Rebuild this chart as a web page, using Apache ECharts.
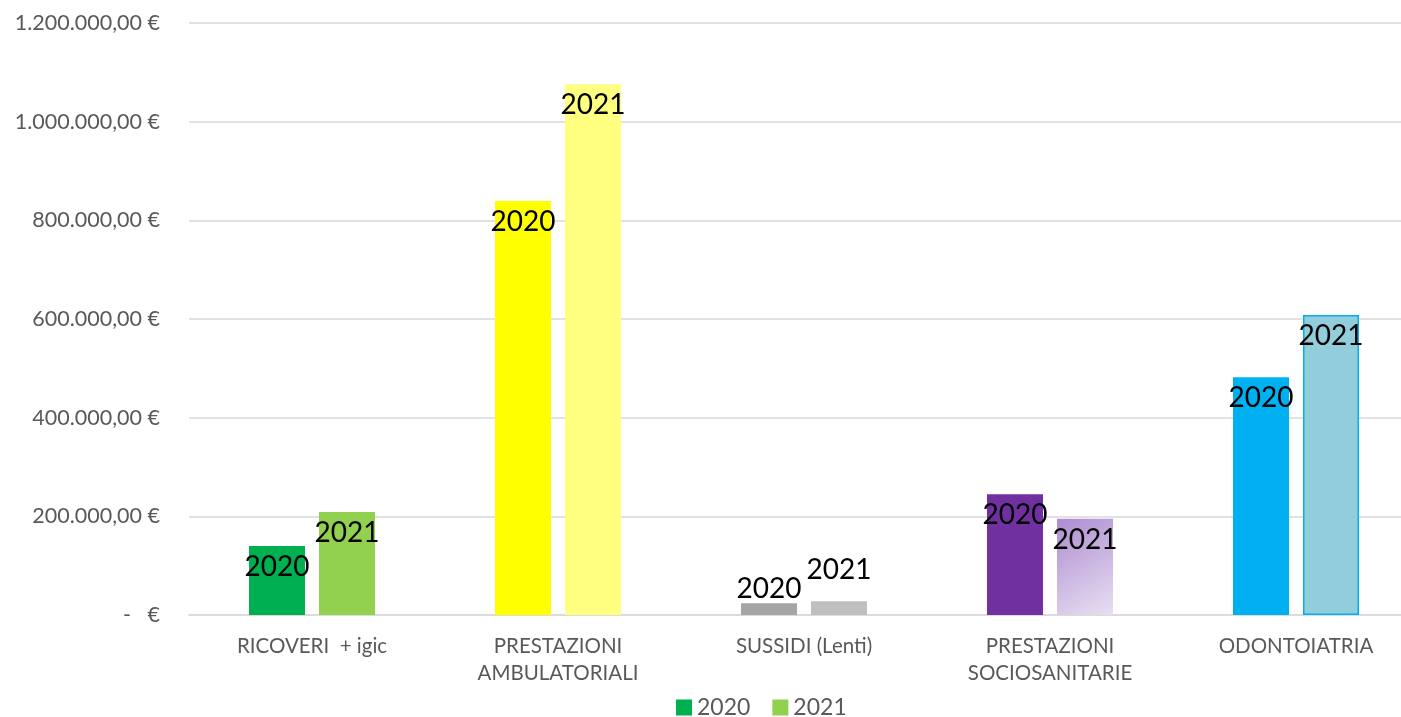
<!DOCTYPE html>
<html>
<head>
<meta charset="utf-8">
<script src="https://cdn.jsdelivr.net/npm/echarts@6/dist/echarts.min.js"></script>
<style>
  html, body { margin: 0; padding: 0; background: #fff; }
  #chart { width: 1401px; height: 717px; }
</style>
</head>
<body>
<div id="chart"></div>
<script>
// categorie e valori
const categories = ['RICOVERI  + igic', 'PRESTAZIONI\nAMBULATORIALI', 'SUSSIDI (Lenti)', 'PRESTAZIONI\nSOCIOSANITARIE', 'ODONTOIATRIA']
const values2020 = [140000, 839000, 24000, 245000, 482000]
const values2021 = [209000, 1076000, 28000, 195000, 608000]
const seriesNames = ['2020', '2021']

// colori per ogni barra (ogni categoria ha i suoi)
const colors2020 = ['#00B050', '#FFFF00', '#A5A5A5', '#7030A0', '#00B0F0']
const colors2021 = ['#92D050', '#FFFF80', '#BFBFBF', 'gradient', '#92CDDC']

const chart = echarts.init(document.getElementById('chart'))

/** formato euro italiano: 1.200.000,00 € */
function formatEuro(v) {
  if (v === 0) return '-   €'
  const s = String(Math.round(v)).replace(/\B(?=(\d{3})+(?!\d))/g, '.')
  return s + ',00 €'
}

function buildData(values, colors, name) {
  return values.map((v, i) => {
    let color = colors[i]
    if (color === 'gradient') {
      color = new echarts.graphic.LinearGradient(0, 0, 1, 1, [
        { offset: 0, color: '#AE8CD0' },
        { offset: 1, color: '#E8E0F2' }
      ])
    }
    const item = { value: v, itemStyle: { color: color } }
    if (name === '2021' && i === 4) {
      item.itemStyle.borderColor = '#00B0F0'
      item.itemStyle.borderWidth = 1.5
    }
    // barre troppo basse: etichetta sopra
    if (v < 60000) {
      item.label = { position: 'top', distance: name === '2021' ? 17 : 0 }
    }
    return item
  })
}

const labelStyle = {
  show: true,
  position: 'insideTop',
  distance: 7,
  formatter: '{a}',
  color: '#000',
  fontFamily: 'Lato',
  fontSize: 28
}

const option = {
  animation: false,
  textStyle: { fontFamily: 'Lato' },
  grid: { left: 189, top: 23, width: 1230, bottom: 102, outerBoundsMode: 'none' },
  legend: {
    left: 676,
    top: 696,
    padding: 0,
    itemWidth: 16,
    itemHeight: 16,
    itemGap: 22,
    icon: 'rect',
    textStyle: { color: '#595959', fontSize: 23, fontFamily: 'Lato' },
    data: [
      { name: '2020', itemStyle: { color: '#00B050' } },
      { name: '2021', itemStyle: { color: '#92D050' } }
    ]
  },
  xAxis: {
    type: 'category',
    data: categories,
    axisLine: { lineStyle: { color: '#D9D9D9', width: 1.5 } },
    axisTick: { show: false },
    axisLabel: {
      color: '#595959',
      fontSize: 20.5,
      fontFamily: 'Lato',
      lineHeight: 27,
      margin: 18
    }
  },
  yAxis: {
    type: 'value',
    min: 0,
    max: 1200000,
    interval: 200000,
    axisLine: { show: false },
    axisTick: { show: false },
    splitLine: { lineStyle: { color: '#D9D9D9', width: 1.5 } },
    axisLabel: {
      color: '#595959',
      fontSize: 21.5,
      fontFamily: 'Lato',
      margin: 29,
      formatter: formatEuro
    }
  },
  series: [
    {
      name: seriesNames[0],
      type: 'bar',
      barWidth: 56,
      barGap: '25%',
      label: labelStyle,
      itemStyle: { color: '#00B050' },
      data: buildData(values2020, colors2020, '2020')
    },
    {
      name: seriesNames[1],
      type: 'bar',
      barWidth: 56,
      barGap: '25%',
      label: labelStyle,
      itemStyle: { color: '#92D050' },
      data: buildData(values2021, colors2021, '2021')
    }
  ]
}

chart.setOption(option)
</script>
</body>
</html>
